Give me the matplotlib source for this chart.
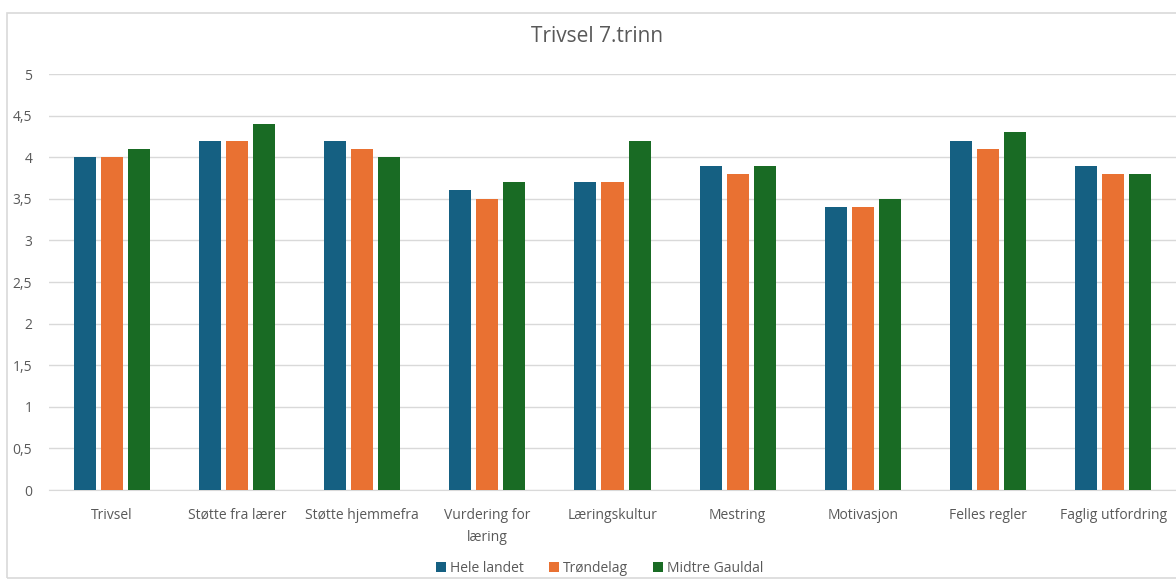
import numpy as np
import matplotlib
matplotlib.use("Agg")
import matplotlib.pyplot as plt
from matplotlib.patches import Rectangle

plt.rcParams['font.family'] = ['Open Sans', 'DejaVu Sans']

categories = ["Trivsel", "Støtte fra lærer", "Støtte hjemmefra", "Vurdering for\nlæring",
              "Læringskultur", "Mestring", "Motivasjon", "Felles regler", "Faglig utfordring"]
series_names = ["Hele landet", "Trøndelag", "Midtre Gauldal"]
hele_landet = [4.0, 4.2, 4.2, 3.6, 3.7, 3.9, 3.4, 4.2, 3.9]
trondelag = [4.0, 4.2, 4.1, 3.5, 3.7, 3.8, 3.4, 4.1, 3.8]
midtre_gauldal = [4.1, 4.4, 4.0, 3.7, 4.2, 3.9, 3.5, 4.3, 3.8]
colors = ["#156082", "#E97132", "#196B24"]
yticks = [0, 0.5, 1, 1.5, 2, 2.5, 3, 3.5, 4, 4.5, 5]

fig = plt.figure(figsize=(11.76, 5.8), dpi=100)
# chart border (runs off the right edge like the screenshot)
fig.patches.append(Rectangle((7 / 1176, 1 - 578 / 580), 1.2, (578 - 13) / 580,
                             transform=fig.transFigure, fill=False,
                             edgecolor="#d9d9d9", linewidth=1.2))

ax = fig.add_axes([49 / 1176, 1 - 490 / 580, 1127 / 1176, 416 / 580])
x = np.arange(len(categories))
width = 0.176
step = 0.216
for i, (vals, name) in enumerate(zip([hele_landet, trondelag, midtre_gauldal], series_names)):
    ax.bar(x + (i - 1) * step, vals, width, color=colors[i], label=name, zorder=3)

ax.set_xlim(-0.5, len(categories) - 0.5)
ax.set_ylim(0, 5)
ax.set_yticks(yticks)
ax.set_yticklabels([str(t).replace(".", ",").replace(",0", "") if t != 0 else "0" for t in yticks])
ax.set_xticks(x)
ax.set_xticklabels(categories, linespacing=1.6)
ax.tick_params(axis="both", length=0, colors="#595959", labelsize=10)
ax.tick_params(axis="y", pad=12)
ax.tick_params(axis="x", pad=13)
ax.grid(axis="y", color="#d9d9d9", linewidth=1, zorder=0)
for s in ["top", "right", "left"]:
    ax.spines[s].set_visible(False)
ax.spines["bottom"].set_color("#d9d9d9")

fig.text(597 / 1176, 1 - 37 / 580, "Trivsel 7.trinn", ha="center", va="center",
         fontsize=15, color="#595959")

fig.legend(loc="center", bbox_to_anchor=(600 / 1176, 1 - 568 / 580), ncol=3,
           frameon=False, fontsize=10, labelcolor="#595959",
           handlelength=0.7, handleheight=0.7, handletextpad=0.3, columnspacing=1.8)

fig.savefig("out.png", dpi=100)
